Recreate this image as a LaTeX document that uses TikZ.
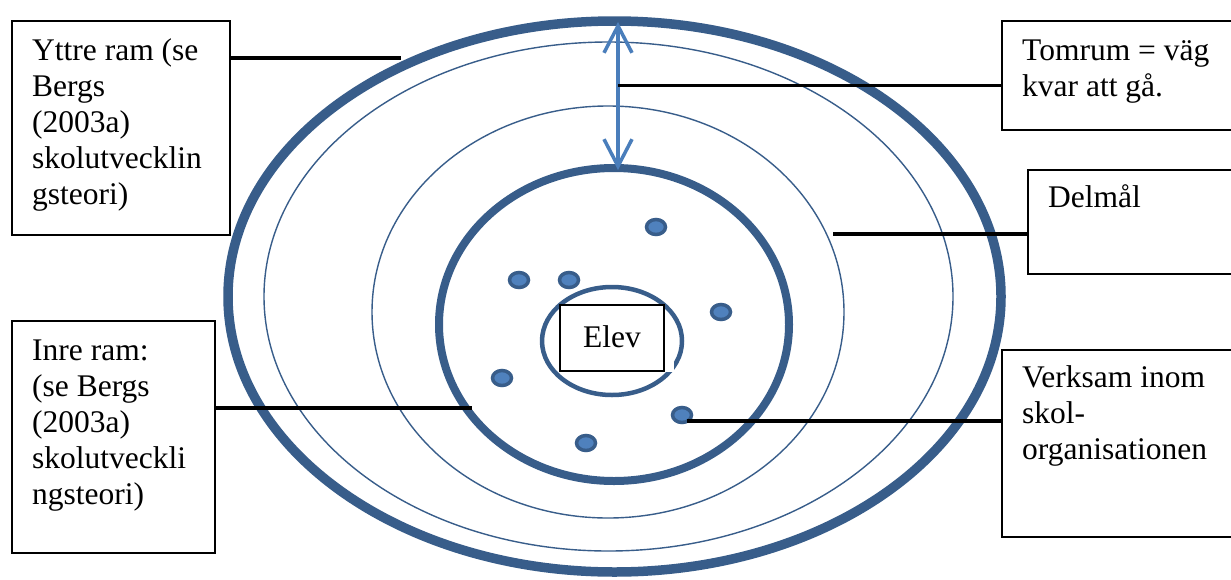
\documentclass[tikz,border=0pt]{standalone}
\usepackage{fontspec}
\setmainfont{Liberation Serif}
\usetikzlibrary{arrows.meta,shapes.geometric}
\definecolor{ringblue}{HTML}{385D8A}
\definecolor{dotfill}{HTML}{4F81BD}
\definecolor{arrowblue}{HTML}{4A7EBB}

\begin{document}
\begin{tikzpicture}[x=1pt,y=-1pt,
  thickring/.style={draw=ringblue,line width=9.5pt},
  thinring/.style={draw=ringblue,line width=1.4pt},
  member/.style={ellipse,draw=ringblue,fill=dotfill,line width=3.5pt,
                 inner sep=0pt,minimum width=19pt,minimum height=15pt},
  labelbox/.style={rectangle,draw=black,line width=1.6pt,fill=white,
                   inner sep=0pt,anchor=north west},
  % anchored at the baseline of the last line of the text
  labeltext/.style={font=\fontsize{31.5}{36}\selectfont,align=left,
                    anchor=base west,inner sep=0pt},
  leader/.style={draw=black,line width=3.5pt},
]
\fill[white] (0,0) rectangle (1231,579);
\useasboundingbox (0,0) rectangle (1231,579);
\clip (0,0) rectangle (1231,579);

% concentric rings
\draw[thickring] (614.5,296.5) ellipse [x radius=386.5pt, y radius=275.5pt];
\draw[thinring]  (608.5,296.5) ellipse [x radius=344.5pt, y radius=254.5pt];
\draw[thinring]  (608,312)     ellipse [x radius=236pt,   y radius=206pt];
\draw[draw=ringblue,line width=8pt] (614,324.5) ellipse [x radius=175pt, y radius=156.5pt];

% the pupil in the middle
\draw[draw=ringblue,line width=4.5pt] (612,341) ellipse [x radius=70pt, y radius=54pt];
\fill[white] (664,362) rectangle (674,372);
\node[rectangle,draw=black,line width=1.5pt,fill=white,inner sep=0pt,
      minimum width=104pt,minimum height=66pt,
      font=\fontsize{31.5}{36}\selectfont] (elev) at (612,338) {\raisebox{2pt}{Elev}};

% staff members
\node[member] (m1) at (656,227) {};
\node[member] (m2) at (519,280) {};
\node[member] (m3) at (569,280) {};
\node[member] (m4) at (721,312) {};
\node[member] (m5) at (502,378) {};
\node[member] (m6) at (682,415) {};
\node[member] (m7) at (586,443) {};

% distance still to go
\coordinate (gapTop) at (618,22);
\coordinate (gapBot) at (618,170);
\draw[arrowblue,line width=3.5pt,line cap=round,
      {Straight Barb[length=27pt,width=28pt]}-{Straight Barb[length=27pt,width=28pt]}]
      (gapTop) -- (gapBot);

% label boxes
\node[labelbox,minimum width=218pt,minimum height=214pt] (yttre) at (11,20) {};
\node[labeltext] (yttreText) at (32,204)
  {Yttre ram (se\\Bergs\\(2003a)\\skolutvecklin\\gsteori)};

\node[labelbox,minimum width=203pt,minimum height=232pt] (inre) at (11,320) {};
\node[labeltext] (inreText) at (32,504)
  {Inre ram:\\(se Bergs\\(2003a)\\skolutveckli\\ngsteori)};

\node[labelbox,minimum width=260pt,minimum height=109pt] (tomrum) at (1001,20) {};
\node[labeltext] (tomrumText) at (1022,96) {Tomrum = väg\\kvar att gå.};

\node[labelbox,minimum width=260pt,minimum height=104pt] (delmal) at (1027,169) {};
\node[labeltext] (delmalText) at (1048,207) {Delmål};

\node[labelbox,minimum width=260pt,minimum height=187pt] (verksam) at (1001,349) {};
\node[labeltext] (verksamText) at (1022,459) {Verksam inom\\skol-\\organisationen};

% leader lines
\coordinate (yttreEnd) at (401,58);
\draw[leader] (yttreEnd) -- (yttreEnd -| yttre.east);
\coordinate (inreEnd) at (472,408);
\draw[leader] (inreEnd) -- (inreEnd -| inre.east);
\coordinate (tomrumEnd) at (618,85);
\draw[leader,line width=3pt] (tomrumEnd) -- (tomrumEnd -| tomrum.west);
\coordinate (delmalEnd) at (833,234);
\draw[leader] (delmalEnd) -- (delmalEnd -| delmal.west);
\coordinate (verksamEnd) at (687,421);
\draw[leader] (verksamEnd) -- (verksamEnd -| verksam.west);
\end{tikzpicture}
\end{document}
